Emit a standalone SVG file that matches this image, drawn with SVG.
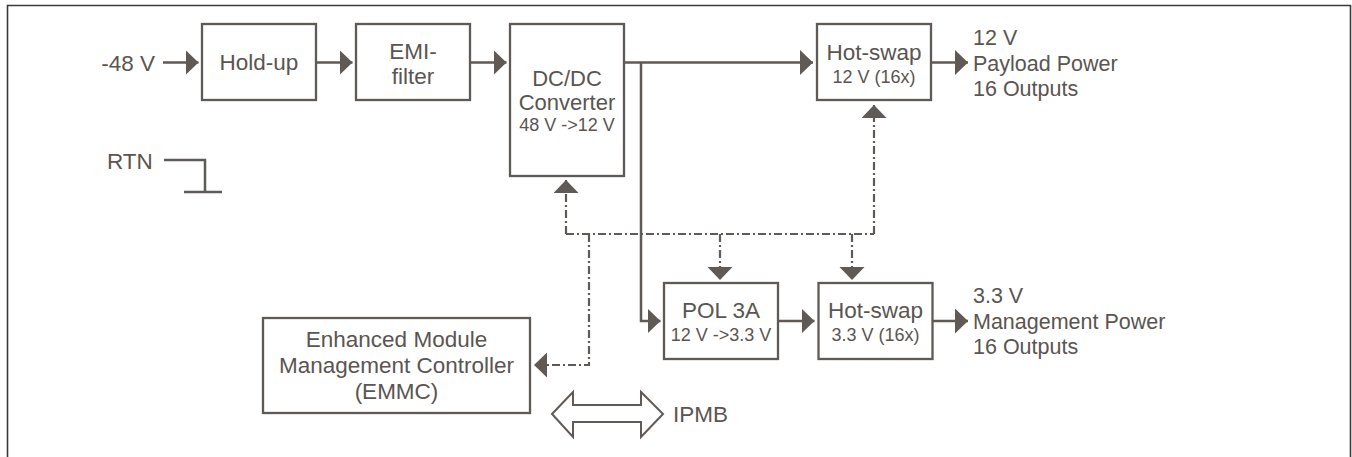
<svg xmlns="http://www.w3.org/2000/svg" width="1352" height="457" viewBox="0 0 1352 457">
<style>
.box{fill:#fff;stroke:#5f5a56;stroke-width:2.3}
.ln{fill:none;stroke:#5f5a56;stroke-width:2.5}
.dd{fill:none;stroke:#5f5a56;stroke-width:2.2;stroke-dasharray:8 3 2 3}
.t{font-family:"Liberation Sans",Arial,Helvetica,sans-serif;fill:#5a5551;font-size:22.5px}
.s{font-family:"Liberation Sans",Arial,Helvetica,sans-serif;fill:#5a5551;font-size:18px}
.o{font-family:"Liberation Sans",Arial,Helvetica,sans-serif;fill:#5a5551;font-size:21.5px}
.c{text-anchor:middle}
</style>
<defs>
<marker id="ah" markerUnits="userSpaceOnUse" markerWidth="14" markerHeight="26" refX="13" refY="12.5" orient="auto">
<path d="M0,0 L13,12.5 L0,25 Z" fill="#5f5a56"/>
</marker>
</defs>
<path d="M7.5,457 V5.5 H1350.5 V457" fill="none" stroke="#3a3a3a" stroke-width="1.6"/>

<g id="connectors">
<line class="ln" x1="163" y1="62.5" x2="198.5" y2="62.5" marker-end="url(#ah)"/>
<line class="ln" x1="316" y1="62.5" x2="352.5" y2="62.5" marker-end="url(#ah)"/>
<line class="ln" x1="470" y1="62.5" x2="506.5" y2="62.5" marker-end="url(#ah)"/>
<line class="ln" x1="624" y1="62.5" x2="813" y2="62.5" marker-end="url(#ah)"/>
<path class="ln" d="M641,62.5 V321 H660.5" marker-end="url(#ah)"/>
<line class="ln" x1="778" y1="321" x2="814.5" y2="321" marker-end="url(#ah)"/>
<line class="ln" x1="931" y1="62.5" x2="968" y2="62.5" marker-end="url(#ah)"/>
<line class="ln" x1="933" y1="321" x2="968" y2="321" marker-end="url(#ah)"/>
<path class="ln" d="M164,160 H205 V192 M184,192 H222"/>
<path class="dd" d="M566,234 V180" marker-end="url(#ah)"/>
<path class="dd" d="M566,234 H874"/>
<path class="dd" d="M874,234 V105" marker-end="url(#ah)"/>
<path class="dd" d="M589,234 V365 H534" marker-end="url(#ah)"/>
<path class="dd" d="M720,234 V280" marker-end="url(#ah)"/>
<path class="dd" d="M852,234 V280" marker-end="url(#ah)"/>
<polygon points="552,414 573,392 573,405 641,405 641,392 663,414 641,437 641,422 573,422 573,437" fill="#fff" stroke="#5f5a56" stroke-width="2"/>
</g>

<text class="t" x="155" y="71" text-anchor="end">-48 V</text>
<text class="t" x="107" y="169">RTN</text>
<text class="t" x="673" y="422">IPMB</text>

<g id="holdup">
<rect class="box" x="202" y="24" width="114" height="76"/>
<text class="t c" x="259" y="70">Hold-up</text>
</g>
<g id="emi">
<rect class="box" x="356" y="24" width="114" height="76"/>
<text class="t c" x="413" y="58.5">EMI-</text>
<text class="t c" x="413" y="83.5">filter</text>
</g>
<g id="dcdc">
<rect class="box" x="510" y="24" width="114" height="152"/>
<text class="t c" x="567" y="86" style="font-size:22px">DC/DC</text>
<text class="t c" x="567" y="110" style="font-size:22px">Converter</text>
<text class="s c" x="567" y="131">48 V -&gt;12 V</text>
</g>
<g id="hotswap12">
<rect class="box" x="817" y="24" width="114" height="76"/>
<text class="t c" x="874" y="59.5">Hot-swap</text>
<text class="s c" x="874" y="83">12 V (16x)</text>
</g>
<g id="out12">
<text class="o" x="973" y="45">12 V</text>
<text class="o" x="973" y="71">Payload Power</text>
<text class="o" x="973" y="96">16 Outputs</text>
</g>
<g id="pol">
<rect class="box" x="664" y="283" width="114" height="76"/>
<text class="t c" x="721" y="318">POL 3A</text>
<text class="s c" x="721" y="341">12 V -&gt;3.3 V</text>
</g>
<g id="hotswap33">
<rect class="box" x="818.5" y="283" width="114" height="76"/>
<text class="t c" x="875.5" y="318">Hot-swap</text>
<text class="s c" x="875.5" y="341">3.3 V (16x)</text>
</g>
<g id="out33">
<text class="o" x="973" y="303">3.3 V</text>
<text class="o" x="973" y="329">Management Power</text>
<text class="o" x="973" y="354">16 Outputs</text>
</g>
<g id="emmc">
<rect class="box" x="263" y="318" width="267" height="95"/>
<text class="t c" x="396.5" y="347">Enhanced Module</text>
<text class="t c" x="396.5" y="373">Management Controller</text>
<text class="t c" x="396.5" y="399">(EMMC)</text>
</g>
</svg>
